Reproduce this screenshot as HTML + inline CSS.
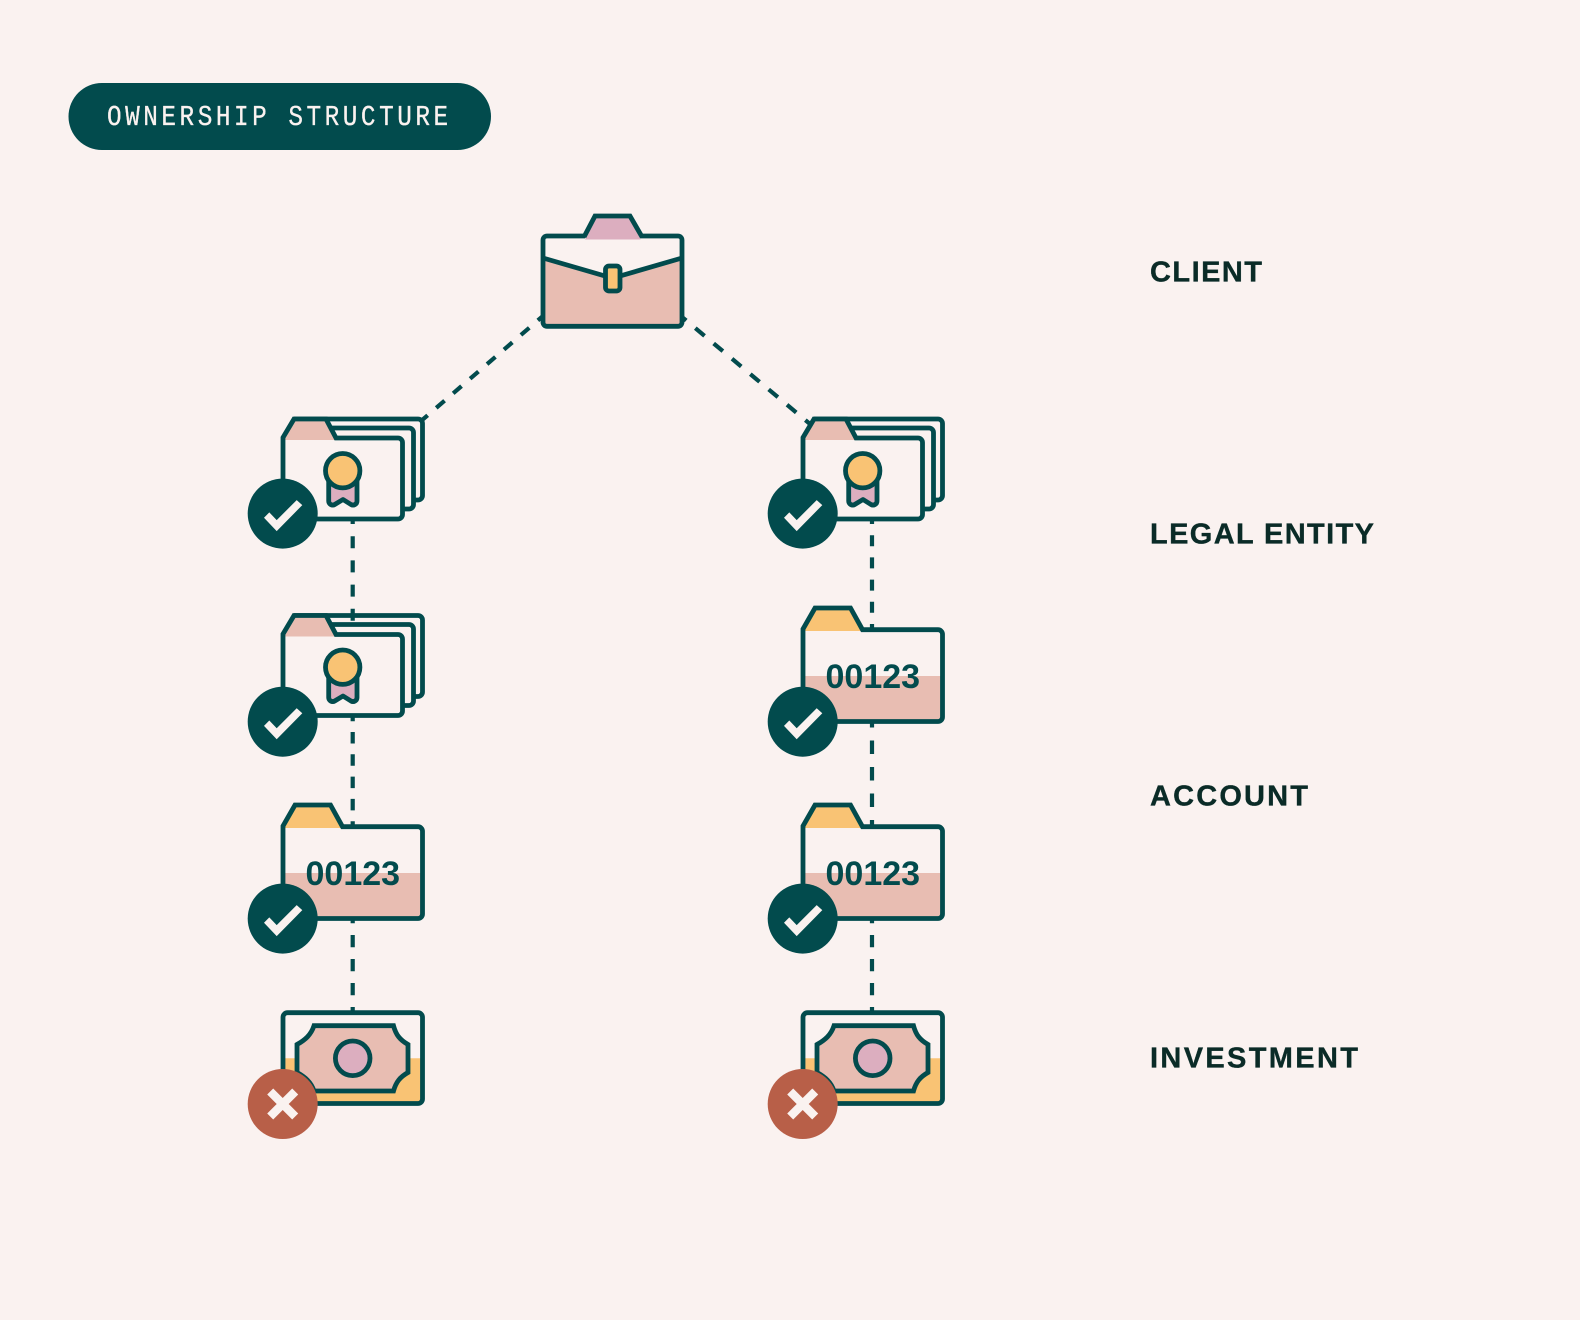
<!DOCTYPE html>
<html lang="en">
<head>
<meta charset="utf-8">
<title>Ownership Structure</title>
<style>
html,body{margin:0;padding:0;background:#FAF2F0;width:1580px;height:1320px;overflow:hidden}
svg{display:block}
.lbl{font-family:"Liberation Sans",sans-serif;font-weight:700;font-size:29px;fill:#0A2B27;stroke:#0A2B27;stroke-width:.35}
.num{font-family:"Liberation Sans",sans-serif;font-weight:700;font-size:34px;fill:#024B4D}
.ln{stroke:#024B4D;stroke-width:4.2;fill:none}
.o{stroke:#024B4D;stroke-width:4.8;stroke-linejoin:miter;fill:none}
</style>
</head>
<body>
<svg xmlns="http://www.w3.org/2000/svg" width="1580" height="1320" viewBox="0 0 1580 1320">
<defs>
  <g id="cert">
    <path d="M294 419H418a4.5 4.5 0 0 1 4.5 4.5V495.5a4.5 4.5 0 0 1-4.5 4.5H405V419Z" fill="#FAF2F0"/>
    <path class="o" d="M294 419H418a4.5 4.5 0 0 1 4.5 4.5V495.5a4.5 4.5 0 0 1-4.5 4.5H410"/>
    <path d="M330 428H409a4.5 4.5 0 0 1 4.5 4.5V504.5a4.5 4.5 0 0 1-4.5 4.5H398V428Z" fill="#FAF2F0"/>
    <path class="o" d="M330 428H409a4.5 4.5 0 0 1 4.5 4.5V504.5a4.5 4.5 0 0 1-4.5 4.5H400"/>
    <path d="M283 437.5L294 419H326L336 438H398a4.5 4.5 0 0 1 4.5 4.5V514.5a4.5 4.5 0 0 1-4.5 4.5H283Z" fill="#FAF2F0"/>
    <path d="M283 438.5L294 419H326L336 440H283Z" fill="#E8BDB2"/>
    <path class="o" d="M283 519V437.5L294 419H326L336 438H398a4.5 4.5 0 0 1 4.5 4.5V514.5a4.5 4.5 0 0 1-4.5 4.5H283"/>
    <path class="o" d="M328.7 480V501a4 4 0 0 0 6 3.5L343 499.5L351 504.5a4 4 0 0 0 6-3.5V480Z" style="fill:#DCAEBF;stroke-linejoin:round"/>
    <circle cx="342.7" cy="470.7" r="17.2" fill="#F9C374" stroke="#024B4D" stroke-width="4.8"/>
  </g>
  <g id="folder">
    <path d="M283 826V918.4H418a4.5 4.5 0 0 0 4.5-4.5V831.2a4.5 4.5 0 0 0-4.5-4.5H283Z" fill="#FAF2F0"/>
    <path d="M283 873H422.5V914a4.5 4.5 0 0 1-4.5 4.5H283Z" fill="#E8BDB2"/>
    <path d="M283 828V826L295 805H330.5L343 828Z" fill="#F9C374"/>
    <path class="o" d="M283 918.4V826L295 805H330.5L342.5 826.7H418a4.5 4.5 0 0 1 4.5 4.5V914a4.5 4.5 0 0 1-4.5 4.5H283"/>
  </g>
  <g id="money">
    <rect x="283" y="1012.7" width="139.5" height="90.8" rx="4.5" fill="#FAF2F0"/>
    <path d="M283 1058.3H422.5V1099a4.5 4.5 0 0 1-4.5 4.5H283Z" fill="#F9C374"/>
    <rect class="o" x="283" y="1012.7" width="139.5" height="90.8" rx="4.5"/>
    <path d="M314 1025.7H393.5C396 1035 400 1040 408 1044.5V1072.5C400 1077 396 1082 393.5 1091H314C311 1082 305 1077 297 1072.5V1044.5C305 1040 311 1035 314 1025.7Z" fill="#E8BDB2" stroke="#024B4D" stroke-width="4.8"/>
    <circle cx="352.7" cy="1058.3" r="17.3" fill="#DCAEBF" stroke="#024B4D" stroke-width="4.8"/>
  </g>
  <g id="check">
    <circle r="35" fill="#024B4D"/>
    <polygon points="-18.7,4.2 -13.4,-1.2 -6,6.5 14,-13.5 19.6,-8.5 -6,17.5" fill="#FAF2F0"/>
  </g>
  <g id="cross">
    <circle r="35" fill="#B85F48"/>
    <path d="M-12.5-12.5L12.5 12.5M12.5-12.5L-12.5 12.5" stroke="#FAF2F0" stroke-width="8.5"/>
  </g>
</defs>

<rect width="1580" height="1320" fill="#FAF2F0"/>

<!-- Pill -->
<rect x="68.5" y="83" width="422.5" height="67" rx="33.5" fill="#024B4D"/>
<text transform="translate(107 125) scale(.84 1)" font-family="'Liberation Mono',monospace" font-size="29" letter-spacing="4.2" fill="#FAF2F0" stroke="#FAF2F0" stroke-width=".3">OWNERSHIP STRUCTURE</text>

<!-- Connectors -->
<line class="ln" x1="546.2" y1="313.2" x2="421" y2="421" stroke-dasharray="11 11.35"/>
<line class="ln" x1="677" y1="312.8" x2="810" y2="424" stroke-dasharray="12 11.9"/>
<line class="ln" x1="352.7" y1="512" x2="352.7" y2="622" stroke-dasharray="12 12.2"/>
<line class="ln" x1="352.7" y1="709.7" x2="352.7" y2="833" stroke-dasharray="11.5 10.8"/>
<line class="ln" x1="352.7" y1="911" x2="352.7" y2="1014" stroke-dasharray="12.3 11.7"/>
<line class="ln" x1="872" y1="513" x2="872" y2="632" stroke-dasharray="11 11.2"/>
<line class="ln" x1="872" y1="714" x2="872" y2="830" stroke-dasharray="13.5 13"/>
<line class="ln" x1="872" y1="911" x2="872" y2="1014" stroke-dasharray="12.3 11.7"/>

<!-- Briefcase -->
<rect x="543" y="236" width="139" height="90.3" rx="4" fill="#FAF2F0"/>
<path d="M543 258L605 276H620L682 258V322a4 4 0 0 1-4 4.3H547a4 4 0 0 1-4-4.3Z" fill="#E8BDB2"/>
<path d="M585 239.5L595 216H630L640.5 239.5Z" fill="#DCAEBF"/>
<path class="o" d="M584 237L595 216H630L641.5 236H678a4 4 0 0 1 4 4V322.3a4 4 0 0 1-4 4H547a4 4 0 0 1-4-4V240a4 4 0 0 1 4-4H585"/>
<path class="o" d="M543 258L605 276M620 276L682 258"/>
<rect x="605.5" y="266" width="14.5" height="25" rx="3.5" fill="#F9C374" stroke="#024B4D" stroke-width="4.8"/>

<!-- Left column -->
<use href="#cert"/>
<use href="#check" transform="translate(282.7 513.6)"/>
<use href="#cert" transform="translate(0 196.5)"/>
<use href="#check" transform="translate(282.7 721.7)"/>
<use href="#folder"/>
<text class="num" x="305.5" y="885">00123</text>
<use href="#check" transform="translate(282.7 918.6)"/>
<use href="#money"/>
<use href="#cross" transform="translate(282.7 1104)"/>

<!-- Right column -->
<use href="#cert" transform="translate(520 0)"/>
<use href="#check" transform="translate(802.7 513.6)"/>
<use href="#folder" transform="translate(520 -197)"/>
<text class="num" x="825.5" y="688">00123</text>
<use href="#check" transform="translate(802.7 721.7)"/>
<use href="#folder" transform="translate(520 0)"/>
<text class="num" x="825.5" y="885">00123</text>
<use href="#check" transform="translate(802.7 918.6)"/>
<use href="#money" transform="translate(520 0)"/>
<use href="#cross" transform="translate(802.7 1104)"/>

<!-- Labels -->
<text class="lbl" x="1150" y="281.7" textLength="112" lengthAdjust="spacing">CLIENT</text>
<text class="lbl" x="1150" y="543.3" textLength="224" lengthAdjust="spacing">LEGAL ENTITY</text>
<text class="lbl" x="1150" y="805.7" textLength="158" lengthAdjust="spacing">ACCOUNT</text>
<text class="lbl" x="1150" y="1067.7" textLength="208" lengthAdjust="spacing">INVESTMENT</text>
</svg>
</body>
</html>
